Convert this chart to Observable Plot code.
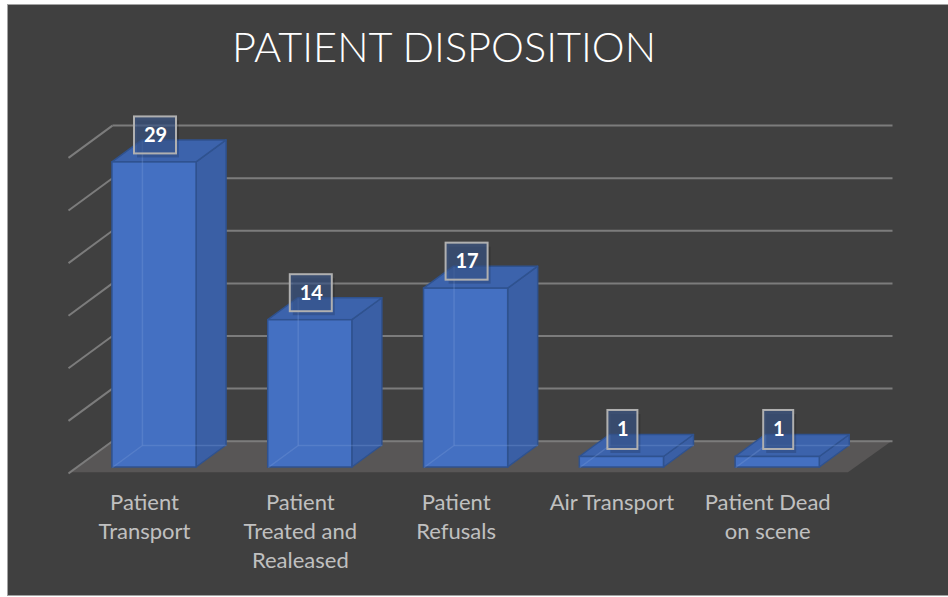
<!DOCTYPE html>
<html><head><meta charset="utf-8">
<script src="https://cdn.jsdelivr.net/npm/d3@7"></script>
<script src="https://cdn.jsdelivr.net/npm/@observablehq/plot@0.6"></script>
<style>
html,body{margin:0;padding:0;background:#ffffff;width:948px;height:597px;overflow:hidden;}
#frame{position:absolute;left:7px;top:4px;width:941px;height:592px;background:#404040;border-top:1.5px solid #a3a3a3;border-left:1.5px solid #a3a3a3;border-bottom:1.5px solid #a3a3a3;box-sizing:border-box;}
#title{position:absolute;left:232px;top:26px;font-family:Lato,sans-serif;font-weight:300;font-size:41.5px;line-height:41.5px;color:#ffffff;white-space:nowrap;}
#plot{position:absolute;left:0;top:95px;}
</style></head><body>
<div id="frame"></div>
<div id="title">PATIENT DISPOSITION</div>
<div id="plot"></div>
<script>
// ---- data ----
const categories = ["Patient\nTransport", "Patient\nTreated and\nRealeased", "Patient\nRefusals", "Air Transport", "Patient Dead\non scene"];
const values = [29, 14, 17, 1, 1];
const gridTicks = [0, 5, 10, 15, 20, 25, 30];

// ---- 3D geometry (in data units) ----
const HALF = 0.27;      // half bar width (band units)
const DX = 0.1925;      // bar depth along x
const DY = 2.09;        // bar depth along y
const WALL_X0 = -0.552, WALL_X1 = -0.27, WALL_X2 = 4.737, FLOOR_X3 = 4.454;
const FLOOR_FRONT = -0.5, WALL_BACK = 2.5, LEFT_FRONT = -0.57;

const bars = values.map((v, i) => ({i, v, label: String(v), cat: categories[i]}));

const floor = [
  {x: WALL_X0, y1: FLOOR_FRONT, y2: FLOOR_FRONT},
  {x: WALL_X1, y1: FLOOR_FRONT, y2: WALL_BACK},
  {x: FLOOR_X3, y1: FLOOR_FRONT, y2: WALL_BACK},
  {x: WALL_X2, y1: WALL_BACK, y2: WALL_BACK}
];

const side = bars.flatMap(b => [
  {z: b.i, x: b.i + HALF, y1: 0, y2: b.v},
  {z: b.i, x: b.i + HALF + DX, y1: DY, y2: b.v + DY}
]);
const topFace = bars.flatMap(b => [
  {z: b.i, x: b.i - HALF, y1: b.v, y2: b.v},
  {z: b.i, x: b.i - HALF + DX, y1: b.v, y2: b.v + DY},
  {z: b.i, x: b.i + HALF, y1: b.v, y2: b.v + DY},
  {z: b.i, x: b.i + HALF + DX, y1: b.v + DY, y2: b.v + DY}
]);
const hidden = bars.flatMap(b => [
  {x1: b.i - HALF + DX, y1: DY, x2: b.i - HALF + DX, y2: b.v + DY},
  {x1: b.i - HALF + DX, y1: DY, x2: b.i + HALF + DX, y2: DY},
  {x1: b.i - HALF, y1: 0, x2: b.i - HALF + DX, y2: DY}
]);

const EDGE = "#2f528f";

const chart = Plot.plot({
  width: 948,
  height: 502,
  margin: 0,
  x: {domain: [0, 4], range: [154, 777.2], axis: null},
  y: {domain: [0, 30], range: [372, 56.4], axis: null},
  style: {background: "transparent", overflow: "visible"},
  marks: [
    // floor
    Plot.areaY(floor, {x: "x", y1: "y1", y2: "y2", fill: "#585656", curve: "linear"}),
    // back wall gridlines
    Plot.link(gridTicks, {x1: () => WALL_X1, x2: () => WALL_X2, y1: g => g + WALL_BACK, y2: g => g + WALL_BACK, stroke: "#7c7c7c", strokeWidth: 2}),
    // left wall gridlines
    Plot.link(gridTicks, {x1: () => WALL_X0, x2: () => WALL_X1, y1: g => g + LEFT_FRONT, y2: g => g + WALL_BACK, stroke: "#7c7c7c", strokeWidth: 2}),
    // bar side faces
    Plot.areaY(side, {x: "x", y1: "y1", y2: "y2", z: "z", fill: "#3a5fa5", stroke: EDGE, strokeWidth: 1.5, curve: "linear"}),
    // bar top faces
    Plot.areaY(topFace, {x: "x", y1: "y1", y2: "y2", z: "z", fill: "#3c63ac", stroke: EDGE, strokeWidth: 1.5, curve: "linear"}),
    // bar front faces
    Plot.rect(bars, {x1: d => d.i - HALF, x2: d => d.i + HALF, y1: () => 0, y2: "v", fill: "#4470c2", stroke: EDGE, strokeWidth: 1.5}),
    // see-through hidden edges
    Plot.link(hidden, {x1: "x1", y1: "y1", x2: "x2", y2: "y2", stroke: "#7d9fdc", strokeOpacity: 0.3, strokeWidth: 1.5}),
    // label box shadows
    Plot.rect(bars.filter(d => d.label.length > 1), {x1: "i", x2: "i", y1: "v", y2: "v", insetLeft: -21, insetRight: -21, insetTop: -18.5, insetBottom: -18.5, dx: 4, dy: -23, fill: "#000", fillOpacity: 0.15}),
    Plot.rect(bars.filter(d => d.label.length === 1), {x1: "i", x2: "i", y1: "v", y2: "v", insetLeft: -15, insetRight: -15, insetTop: -19.5, insetBottom: -19.5, dx: 4, dy: -23, fill: "#000", fillOpacity: 0.15}),
    // label boxes
    Plot.rect(bars.filter(d => d.label.length > 1), {x1: "i", x2: "i", y1: "v", y2: "v", insetLeft: -21, insetRight: -21, insetTop: -18.5, insetBottom: -18.5, dx: 1, dy: -27, fill: "#3b5a92", fillOpacity: 0.6, stroke: "#b0b0b0", strokeWidth: 2}),
    Plot.rect(bars.filter(d => d.label.length === 1), {x1: "i", x2: "i", y1: "v", y2: "v", insetLeft: -15, insetRight: -15, insetTop: -19.5, insetBottom: -19.5, dx: 1, dy: -27, fill: "#3b5a92", fillOpacity: 0.6, stroke: "#b0b0b0", strokeWidth: 2}),
    // value labels
    Plot.text(bars, {x: "i", y: "v", text: "label", dx: 1, dy: -27, fill: "#ffffff", fontSize: 20, fontWeight: "bold", fontFamily: "Lato, sans-serif"}),
    // category labels
    Plot.text(bars, {x: "i", y: () => -2.09, text: "cat", dx: -10, lineAnchor: "top", lineHeight: 1.32, fontSize: 22, fill: "#c0c0c0", fontFamily: "Lato, sans-serif"})
  ]
});
document.getElementById("plot").appendChild(chart);
</script>
</body></html>
